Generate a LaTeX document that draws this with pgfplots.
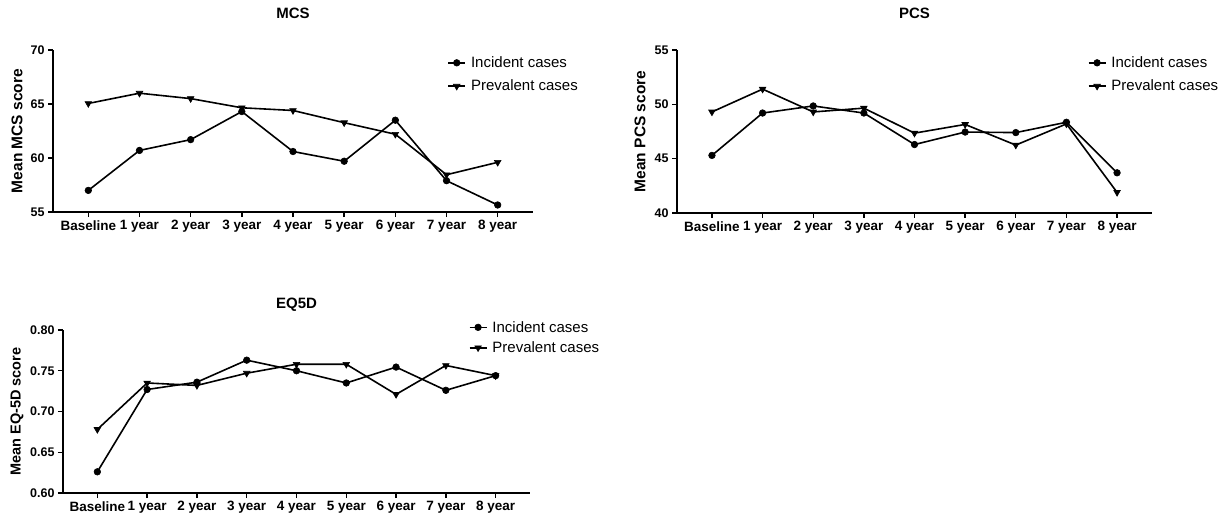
\documentclass[border=0pt]{standalone}
\usepackage{fontspec}
\setmainfont{Liberation Sans}
\usepackage{pgfplots}
\pgfplotsset{compat=1.18}

\pgfplotsset{
  scorepanel/.style={
    scale only axis,
    axis lines=left,
    axis line style={-, line width=1.6pt},
    tick align=outside,
    major tick length=5pt,
    tick style={black, line width=1.4pt},
    xtick={0,...,8},
    xticklabels={Baseline,1 year,2 year,3 year,4 year,5 year,6 year,7 year,8 year},
    xmin=-0.69, xmax=8.69,
    x tick label style={font=\fontsize{13.5}{14}\selectfont\bfseries},
    y tick label style={font=\fontsize{12.5}{13}\selectfont\bfseries},
    /pgf/number format/assume math mode=true,
    title style={font=\fontsize{15}{16}\selectfont\bfseries, at={(axis description cs:0.5,1)}, anchor=center},
    ylabel style={anchor=center, font=\fontsize{15.5}{16}\selectfont\bfseries},
    legend style={draw=none, fill=none, anchor=north west, font=\fontsize{15}{17}\selectfont, row sep=7pt, nodes={inner xsep=5pt}},
    legend cell align=left,
    every axis plot/.append style={black, line width=1.6pt},
    clip=false,
  },
  incident/.style={mark=*, mark size=3.3pt, mark options={solid, line width=0.6pt}},
  prevalent/.style={mark=triangle*, mark size=3.8pt, mark options={solid, line width=0.6pt, rotate=180}},
}

\begin{document}
\begin{tikzpicture}
% MCS
\begin{axis}[scorepanel,
  at={(53pt,305pt)}, anchor=south west,
  width=480pt, height=162pt,
  ymin=55, ymax=70, ytick={55,60,65,70},
  title={MCS}, title style={yshift=31pt},
  ylabel={Mean MCS score}, ylabel style={at={(axis description cs:-0.075,0.5)}},
  legend style={at={(0.815,0.985)}},
]
\addplot[incident] coordinates {(0,57.0) (1,60.7) (2,61.7) (3,64.3) (4,60.6) (5,59.7) (6,63.5) (7,57.9) (8,55.65)};
\addplot[prevalent] coordinates {(0,65.05) (1,66.0) (2,65.5) (3,64.65) (4,64.4) (5,63.27) (6,62.2) (7,58.45) (8,59.6)};
\legend{Incident cases, Prevalent cases}
\end{axis}
% PCS
\begin{axis}[scorepanel,
  at={(677pt,304pt)}, anchor=south west,
  width=475pt, height=163pt,
  ymin=40, ymax=55, ytick={40,45,50,55},
  title={PCS}, title style={yshift=31pt},
  ylabel={Mean PCS score}, ylabel style={at={(axis description cs:-0.078,0.5)}},
  legend style={at={(0.858,0.985)}},
]
\addplot[incident] coordinates {(0,45.3) (1,49.2) (2,49.85) (3,49.2) (4,46.3) (5,47.45) (6,47.4) (7,48.35) (8,43.7)};
\addplot[prevalent] coordinates {(0,49.3) (1,51.4) (2,49.3) (3,49.65) (4,47.35) (5,48.15) (6,46.25) (7,48.2) (8,41.9)};
\legend{Incident cases, Prevalent cases}
\end{axis}
% EQ5D
\begin{axis}[scorepanel,
  at={(63pt,24pt)}, anchor=south west,
  width=467pt, height=163pt,
  ymin=0.6, ymax=0.8, ytick={0.6,0.65,0.7,0.75,0.8},
  yticklabel style={/pgf/number format/.cd, fixed, fixed zerofill, precision=2},
  title={EQ5D}, title style={yshift=19pt},
  ylabel={Mean EQ-5D score}, ylabel style={at={(axis description cs:-0.0985,0.5)}, font=\fontsize{14.5}{15}\selectfont\bfseries},
  legend style={at={(0.862,1.08)}, row sep=4pt},
]
\addplot[incident] coordinates {(0,0.626) (1,0.727) (2,0.736) (3,0.763) (4,0.750) (5,0.735) (6,0.7545) (7,0.726) (8,0.744)};
\addplot[prevalent] coordinates {(0,0.678) (1,0.735) (2,0.732) (3,0.747) (4,0.758) (5,0.758) (6,0.721) (7,0.7565) (8,0.744)};
\legend{Incident cases, Prevalent cases}
\end{axis}
\pgfresetboundingbox
\path (0,0) rectangle (1223pt,517pt);
\end{tikzpicture}
\end{document}
